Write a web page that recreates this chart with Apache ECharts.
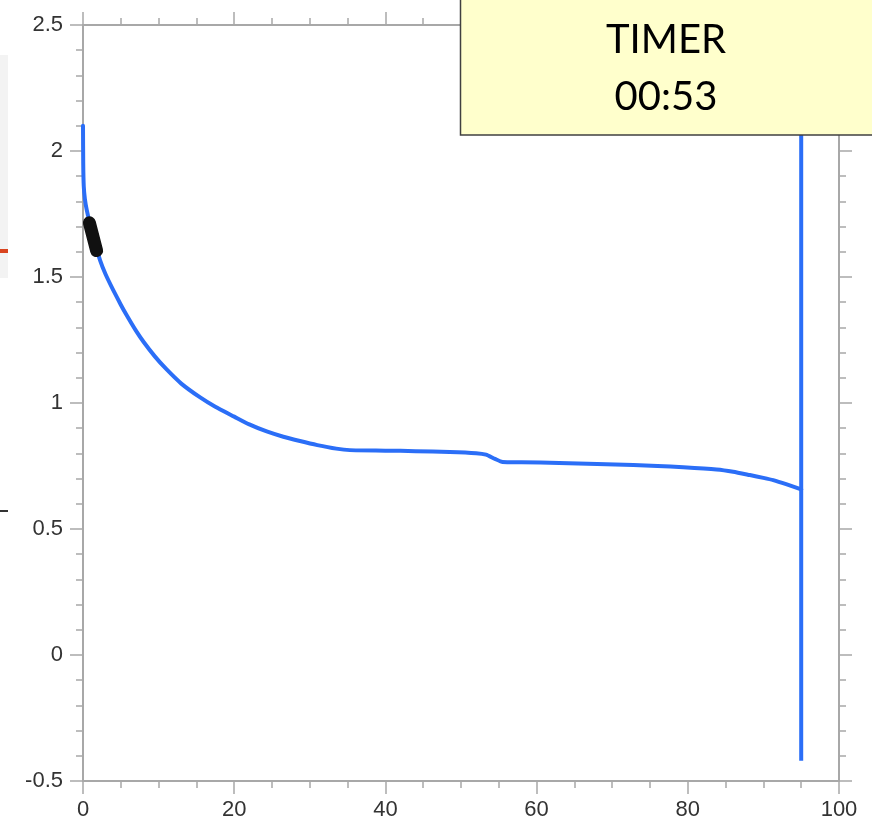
<!DOCTYPE html>
<html>
<head>
<meta charset="utf-8">
<script src="https://cdn.jsdelivr.net/npm/echarts@6/dist/echarts.min.js"></script>
<style>
html,body{margin:0;padding:0;background:#fff;}
#chart{width:872px;height:835px;}
</style>
</head>
<body>
<div id="chart"></div>
<script>
// Measured curve (x, y)
const curveX = [0, 0.03, 0.1, 0.25, 0.5, 1.0, 1.5, 2.25, 3, 4, 5, 5.8, 7, 8, 9.5, 11, 13, 15.5, 17.5, 20, 22, 24.3, 26.5, 28.7, 31, 33.5, 35.3, 40, 44, 48.5, 52, 53.3, 54.5, 55.5, 58, 63, 68, 72.8, 76, 79.4, 83.8, 86, 88.2, 90, 91.3, 93, 95];
const curveY = [2.10, 1.95, 1.86, 1.81, 1.765, 1.70, 1.645, 1.567, 1.51, 1.448, 1.39, 1.347, 1.287, 1.243, 1.185, 1.135, 1.077, 1.022, 0.985, 0.946, 0.915, 0.887, 0.866, 0.849, 0.833, 0.819, 0.813, 0.811, 0.809, 0.806, 0.801, 0.795, 0.778, 0.766, 0.765, 0.762, 0.758, 0.754, 0.750, 0.745, 0.736, 0.727, 0.714, 0.703, 0.694, 0.678, 0.657];
// Vertical spike at the end of the run
const spikeX = [95, 95];
const spikeY = [2.3, -0.42];
// Cursor marker (thick black segment)
const markerX = [0.85, 1.8];
const markerY = [1.715, 1.605];
// Axis settings
const xTicks = {min: 0, max: 100, interval: 20};
const yTicks = {min: -0.5, max: 2.5, interval: 0.5};
const timerLines = ['TIMER', '00:53'];

const curveData = curveX.map((x, i) => [x, curveY[i]]);
const spikeData = spikeX.map((x, i) => [x, spikeY[i]]);
const markerData = markerX.map((x, i) => [x, markerY[i]]);

const axisColor = '#a8a8a8';
const labelStyle = {color: '#333333', fontSize: 22, fontFamily: 'Liberation Sans, Arial, sans-serif'};

function xAx(pos, showLabel) {
  return {
    type: 'value', position: pos, min: xTicks.min, max: xTicks.max, interval: xTicks.interval,
    axisLine: {show: true, onZero: false, lineStyle: {color: axisColor, width: 2}},
    axisTick: {show: true, length: 13, lineStyle: {color: axisColor, width: 1.5}},
    minorTick: {show: true, splitNumber: 4, length: 7, lineStyle: {color: axisColor, width: 1.5}},
    splitLine: {show: false},
    axisLabel: Object.assign({show: showLabel, margin: 18}, labelStyle)
  };
}
function yAx(pos, showLabel) {
  return {
    type: 'value', position: pos, min: yTicks.min, max: yTicks.max, interval: yTicks.interval,
    axisLine: {show: true, onZero: false, lineStyle: {color: axisColor, width: 2}},
    axisTick: {show: true, length: 13, lineStyle: {color: axisColor, width: 1.5}},
    minorTick: {show: true, splitNumber: 5, length: 7, lineStyle: {color: axisColor, width: 1.5}},
    splitLine: {show: false},
    axisLabel: Object.assign({show: showLabel, margin: 20, formatter: v => String(v)}, labelStyle)
  };
}

const lineColor = '#2b6ef7';
const chart = echarts.init(document.getElementById('chart'), null, {renderer: 'canvas'});
chart.setOption({
  animation: false,
  backgroundColor: '#ffffff',
  grid: {left: 83, right: 33, top: 25, bottom: 54, containLabel: false},
  xAxis: [xAx('bottom', true), xAx('top', false)],
  yAxis: [yAx('left', true), yAx('right', false)],
  series: [
    {
      type: 'line', xAxisIndex: 0, yAxisIndex: 0, data: curveData,
      showSymbol: false, symbol: 'none', smooth: 0.2,
      lineStyle: {color: lineColor, width: 4, join: 'round', cap: 'round'},
      z: 3
    },
    {
      type: 'line', xAxisIndex: 0, yAxisIndex: 0, data: spikeData,
      showSymbol: false, symbol: 'none',
      lineStyle: {color: lineColor, width: 4, cap: 'butt'},
      z: 3
    },
    {
      type: 'line', xAxisIndex: 0, yAxisIndex: 0, data: markerData,
      showSymbol: false, symbol: 'none',
      lineStyle: {color: '#111111', width: 13, cap: 'round'},
      z: 4
    }
  ],
  graphic: [
    {type: 'rect', shape: {x: 0, y: 55, width: 8, height: 223}, style: {fill: '#f3f3f3'}, z: 1},
    {type: 'rect', shape: {x: 0, y: 249, width: 8, height: 4}, style: {fill: '#d9441f'}, z: 2},
    {type: 'rect', shape: {x: 0, y: 510, width: 8, height: 2}, style: {fill: '#333333'}, z: 2},
    {type: 'rect', shape: {x: 460.5, y: -2, width: 420, height: 137}, style: {fill: '#ffffcc', stroke: '#404040', lineWidth: 1.5}, z: 100},
    {type: 'text', z: 101, x: 666, y: 40,
      style: {text: timerLines[0], fill: '#000', font: '40px Lato, "Noto Sans", sans-serif', textAlign: 'center', textVerticalAlign: 'middle'}},
    {type: 'text', z: 101, x: 666, y: 97,
      style: {text: timerLines[1], fill: '#000', font: '40px Lato, "Noto Sans", sans-serif', textAlign: 'center', textVerticalAlign: 'middle'}}
  ]
});
</script>
</body>
</html>
